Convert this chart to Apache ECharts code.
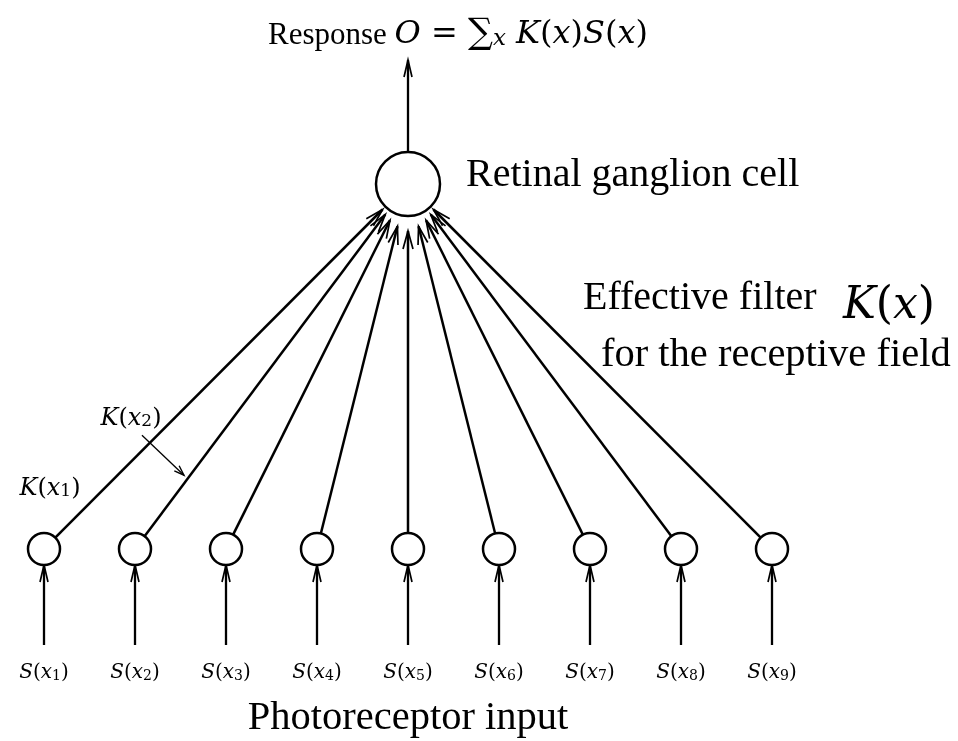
<!DOCTYPE html>
<html>
<head>
<meta charset="utf-8">
<script src="https://cdn.jsdelivr.net/npm/echarts@6/dist/echarts.min.js"></script>
<style>
  html, body { margin: 0; padding: 0; background: #fff; }
  #main { width: 958px; height: 741px; }
</style>
</head>
<body>
<div id="main"></div>
<script>
// photoreceptor inputs S(x_i), one per position on the row
var receptorIndex = ['1', '2', '3', '4', '5', '6', '7', '8', '9'];
var receptorX = [1, 2, 3, 4, 5, 6, 7, 8, 9];
var receptorRow = 0;      // layer of the photoreceptors
var ganglionX = 5;        // the ganglion cell sits above the middle input
var ganglionRow = 1;      // layer of the ganglion cell
var weightLabels = [      // K(x_i) labels drawn on the left
  { idx: 0, sub: '1' },
  { idx: 1, sub: '2' }
];

var SERIF = '"Liberation Serif", "DejaVu Serif", serif';
var MATH = '"DejaVu Serif", serif';
var RS = 16;   // receptor radius (px)
var RG = 32;   // ganglion radius (px)

// rich text styles for math labels of a given size
function mathStyles(size, textSize) {
  var lh = Math.round(size * 1.3);
  var sub = Math.round(size * 0.72);
  return {
    n: { fontFamily: MATH, fontSize: size, lineHeight: lh, verticalAlign: 'bottom', color: '#000' },
    i: { fontFamily: MATH, fontSize: size, lineHeight: lh, fontStyle: 'italic', verticalAlign: 'bottom', color: '#000' },
    s: { fontFamily: MATH, fontSize: sub, lineHeight: Math.round(sub * 0.95), verticalAlign: 'bottom', color: '#000' },
    si: { fontFamily: MATH, fontSize: sub, lineHeight: Math.round(sub * 0.95), fontStyle: 'italic', verticalAlign: 'bottom', color: '#000' },
    sum: { fontFamily: MATH, fontSize: Math.round(size * 1.1), lineHeight: lh, verticalAlign: 'bottom', color: '#000' },
    r: { fontFamily: SERIF, fontSize: textSize || size, lineHeight: lh, verticalAlign: 'bottom', color: '#000' }
  };
}

function norm(dx, dy) {
  var l = Math.sqrt(dx * dx + dy * dy);
  return [dx / l, dy / l];
}

function head(tip, d, len, half, w) {
  var bx = tip[0] - d[0] * len, by = tip[1] - d[1] * len;
  var px = -d[1], py = d[0];
  return {
    type: 'polyline',
    shape: { points: [[bx + px * half, by + py * half], tip, [bx - px * half, by - py * half]] },
    style: { stroke: '#000', lineWidth: w || 1.7, fill: null }
  };
}

function arrow(a, b, width, len, half) {
  var d = norm(b[0] - a[0], b[1] - a[1]);
  return [
    { type: 'line', shape: { x1: a[0], y1: a[1], x2: b[0], y2: b[1] },
      style: { stroke: '#000', lineWidth: width } },
    head(b, d, len || 16, half || 4.5)
  ];
}

function renderReceptor(params, api) {
  var c = api.coord([api.value(0), api.value(1)]);
  var g = api.coord([ganglionX, ganglionRow]);
  var i = api.value(2);
  var d = norm(g[0] - c[0], g[1] - c[1]);
  // outer arrows touch the cell, inner ones stop a bit short of it
  var ang = Math.abs(Math.atan2(d[0], -d[1])) / (Math.PI / 4);
  var stop = 47 - 11 * ang;
  var start = [c[0] + d[0] * RS, c[1] + d[1] * RS];
  var end = [g[0] - d[0] * stop, g[1] - d[1] * stop];
  var children = [];
  // input arrow from below
  children = children.concat(arrow([c[0], c[1] + 96], [c[0], c[1] + RS], 2.3, 17, 4));
  // connection to the ganglion cell
  children = children.concat(arrow(start, end, 2.5, 18, 5));
  children.push({
    type: 'circle', shape: { cx: c[0], cy: c[1], r: RS },
    style: { stroke: '#000', lineWidth: 2.5, fill: '#fff' }
  });
  children.push({
    type: 'text', x: c[0], y: c[1] + 121,
    style: {
      text: '{i|S}{n|(}{i|x}{s|' + receptorIndex[i] + '}{n|)}',
      rich: mathStyles(20), align: 'center', verticalAlign: 'middle'
    }
  });
  return { type: 'group', children: children };
}

function renderGanglion(params, api) {
  var g = api.coord([api.value(0), api.value(1)]);
  var children = arrow([g[0], g[1] - RG], [g[0], 60], 2.3, 17, 4);
  children.push({
    type: 'circle', shape: { cx: g[0], cy: g[1], r: RG },
    style: { stroke: '#000', lineWidth: 2.5, fill: '#fff' }
  });
  return { type: 'group', children: children };
}

function renderWeights(params, api) {
  var idx = api.value(0);
  var c = api.coord([receptorX[idx], receptorRow]);
  var g = api.coord([ganglionX, ganglionRow]);
  var sub = weightLabels[params.dataIndex].sub;
  var children = [];
  var txt = '{i|K}{n|(}{i|x}{s|' + sub + '}{n|)}';
  var rich = mathStyles(24);
  if (idx === 0) {
    children.push({ type: 'text', x: c[0] + 6, y: c[1] - 64,
      style: { text: txt, rich: rich, align: 'center', verticalAlign: 'middle' } });
  } else {
    // label with a small pointer onto the connection line
    var t = 0.205;
    var p = [c[0] + (g[0] - c[0]) * t, c[1] + (g[1] - c[1]) * t];
    var tip = [p[0] - 7, p[1] + 1];
    children.push({ type: 'text', x: c[0] - 4, y: c[1] - 134,
      style: { text: txt, rich: rich, align: 'center', verticalAlign: 'middle' } });
    children = children.concat([
      { type: 'line', shape: { x1: tip[0] - 42, y1: tip[1] - 40, x2: tip[0], y2: tip[1] },
        style: { stroke: '#000', lineWidth: 1.3 } },
      head(tip, norm(42, 40), 10, 3.5, 1.4)
    ]);
  }
  return { type: 'group', children: children };
}

var chart = echarts.init(document.getElementById('main'));
chart.setOption({
  animation: false,
  backgroundColor: '#fff',
  grid: { left: 44, right: 186, top: 184, bottom: 192 },
  xAxis: { type: 'value', min: 1, max: 9, show: false },
  yAxis: { type: 'value', min: 0, max: 1, show: false },
  series: [
    {
      type: 'custom', name: 'receptors', clip: false,
      renderItem: renderReceptor,
      data: receptorX.map(function (x, i) { return [x, receptorRow, i]; })
    },
    {
      type: 'custom', name: 'ganglion', clip: false,
      renderItem: renderGanglion,
      data: [[ganglionX, ganglionRow]]
    },
    {
      type: 'custom', name: 'weights', clip: false,
      renderItem: renderWeights,
      data: weightLabels.map(function (w) { return [w.idx, 0]; })
    }
  ],
  graphic: [
    { type: 'text', x: 268, y: 30,
      style: {
        text: '{r|Response }{i|O}{n| = }{sum|∑}{si|x}{i| K}{n|(}{i|x}{n|)}{i|S}{n|(}{i|x}{n|)}',
        rich: mathStyles(32, 31), verticalAlign: 'middle'
      }
    },
    { type: 'text', x: 466, y: 175,
      style: { text: 'Retinal ganglion cell', font: '40px ' + SERIF, fill: '#000', verticalAlign: 'middle' } },
    { type: 'text', x: 583, y: 298,
      style: { text: 'Effective filter', font: '40px ' + SERIF, fill: '#000', verticalAlign: 'middle' } },
    { type: 'text', x: 843, y: 300,
      style: { text: '{i|K}{n|(}{i|x}{n|)}', rich: mathStyles(44), verticalAlign: 'middle' } },
    { type: 'text', x: 601, y: 355,
      style: { text: 'for the receptive field', font: '40.5px ' + SERIF, fill: '#000', verticalAlign: 'middle' } },
    { type: 'text', x: 408, y: 718,
      style: { text: 'Photoreceptor input', font: '40.5px ' + SERIF, fill: '#000', align: 'center', verticalAlign: 'middle' } }
  ]
});
</script>
</body>
</html>
